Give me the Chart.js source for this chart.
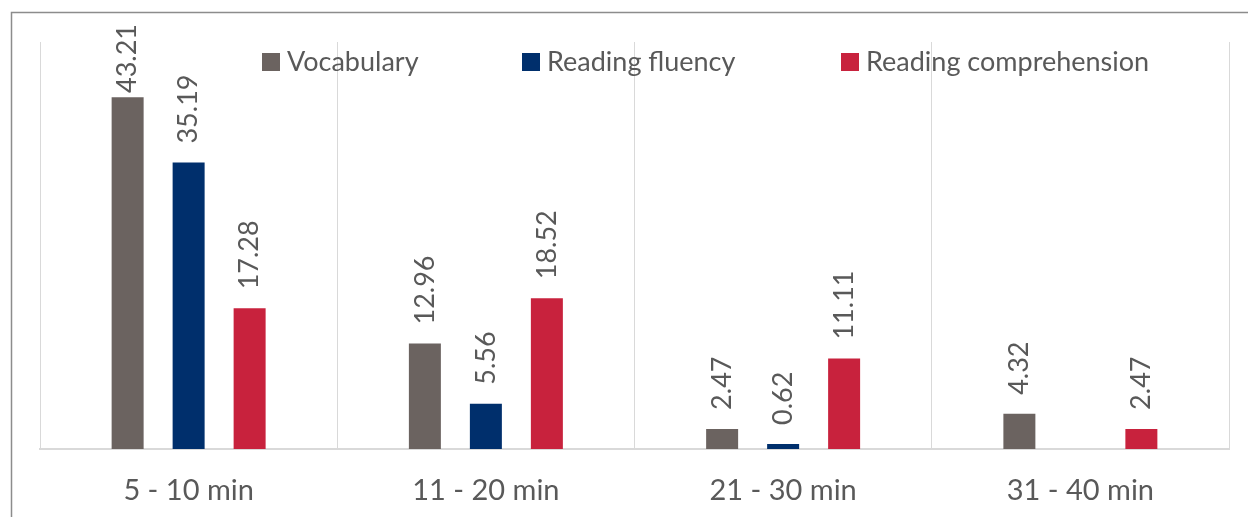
<!DOCTYPE html>
<html>
<head>
<meta charset="utf-8">
<title>Reading time by skill</title>
<script src="https://cdn.jsdelivr.net/npm/chart.js@4.4.1/dist/chart.umd.min.js"></script>
<style>
  html, body { margin: 0; padding: 0; background: #ffffff; }
  #wrap { width: 1248px; height: 517px; }
</style>
</head>
<body>
<div id="wrap"><canvas id="chart" width="1248" height="517"></canvas></div>
<script>
// Time bands on the horizontal axis
const categories = ['5 - 10 min', '11 - 20 min', '21 - 30 min', '31 - 40 min'];

// Share of responses (%) per skill
const vocabulary = [43.21, 12.96, 2.47, 4.32];
const readingFluency = [35.19, 5.56, 0.62, null];
const readingComprehension = [17.28, 18.52, 11.11, 2.47];

const seriesNames = ['Vocabulary', 'Reading fluency', 'Reading comprehension'];
const seriesColors = ['#6b6360', '#002f6c', '#c8223d'];

const TEXT = '#595959';
const FONT = 'Lato, "Open Sans", sans-serif';

// Outer frame of the chart
const framePlugin = {
  id: 'frame',
  beforeDraw(chart) {
    const ctx = chart.ctx;
    ctx.save();
    ctx.strokeStyle = '#8c8c8c';
    ctx.lineWidth = 1.5;
    ctx.strokeRect(11.5, 12.5, 1300, 600);
    ctx.restore();
  }
};

// Rotated value labels above each bar
const valueLabels = {
  id: 'valueLabels',
  afterDatasetsDraw(chart) {
    const ctx = chart.ctx;
    ctx.save();
    ctx.font = '27px ' + FONT;
    ctx.fillStyle = TEXT;
    ctx.textAlign = 'left';
    ctx.textBaseline = 'middle';
    chart.data.datasets.forEach((ds, i) => {
      const meta = chart.getDatasetMeta(i);
      meta.data.forEach((bar, j) => {
        const v = ds.data[j];
        if (v === null || v === undefined) return;
        const txt = v.toFixed(2);
        const len = ctx.measureText(txt).width;
        let y = bar.y - 19;
        if (y - len < 24) y = 24 + len;
        ctx.save();
        ctx.translate(bar.x, y);
        ctx.rotate(-Math.PI / 2);
        ctx.fillText(txt, 0, 0);
        ctx.restore();
      });
    });
    ctx.restore();
  }
};

// Legend drawn inside the plot, across the top
const insideLegend = {
  id: 'insideLegend',
  afterDraw(chart) {
    const ctx = chart.ctx;
    const starts = [262, 522, 841];
    ctx.save();
    ctx.font = '27px ' + FONT;
    ctx.textAlign = 'left';
    ctx.textBaseline = 'middle';
    chart.data.datasets.forEach((ds, i) => {
      const x = starts[i];
      ctx.fillStyle = ds.backgroundColor;
      ctx.fillRect(x, 53, 18, 18);
      ctx.fillStyle = TEXT;
      ctx.fillText(ds.label, x + 25, 62);
    });
    ctx.restore();
  }
};

new Chart(document.getElementById('chart'), {
  type: 'bar',
  data: {
    labels: categories,
    datasets: [
      { label: seriesNames[0], data: vocabulary, backgroundColor: seriesColors[0] },
      { label: seriesNames[1], data: readingFluency, backgroundColor: seriesColors[1] },
      { label: seriesNames[2], data: readingComprehension, backgroundColor: seriesColors[2] }
    ]
  },
  options: {
    responsive: false,
    devicePixelRatio: 1,
    animation: false,
    layout: { padding: { left: 40, right: 19, top: 42, bottom: 0 } },
    datasets: {
      bar: { categoryPercentage: 0.6156, barPercentage: 0.5246, borderWidth: 0 }
    },
    plugins: {
      legend: { display: false },
      tooltip: { enabled: false }
    },
    scales: {
      x: {
        grid: { display: true, color: '#d9d9d9', lineWidth: 1, drawTicks: false, offset: true },
        border: { display: true, color: '#d9d9d9', width: 2 },
        ticks: { color: TEXT, font: { family: FONT, size: 29 }, padding: 24 },
        afterFit(scale) { scale.height = 68; }
      },
      y: {
        display: false,
        min: 0,
        max: 50
      }
    }
  },
  plugins: [framePlugin, valueLabels, insideLegend]
});
</script>
</body>
</html>
